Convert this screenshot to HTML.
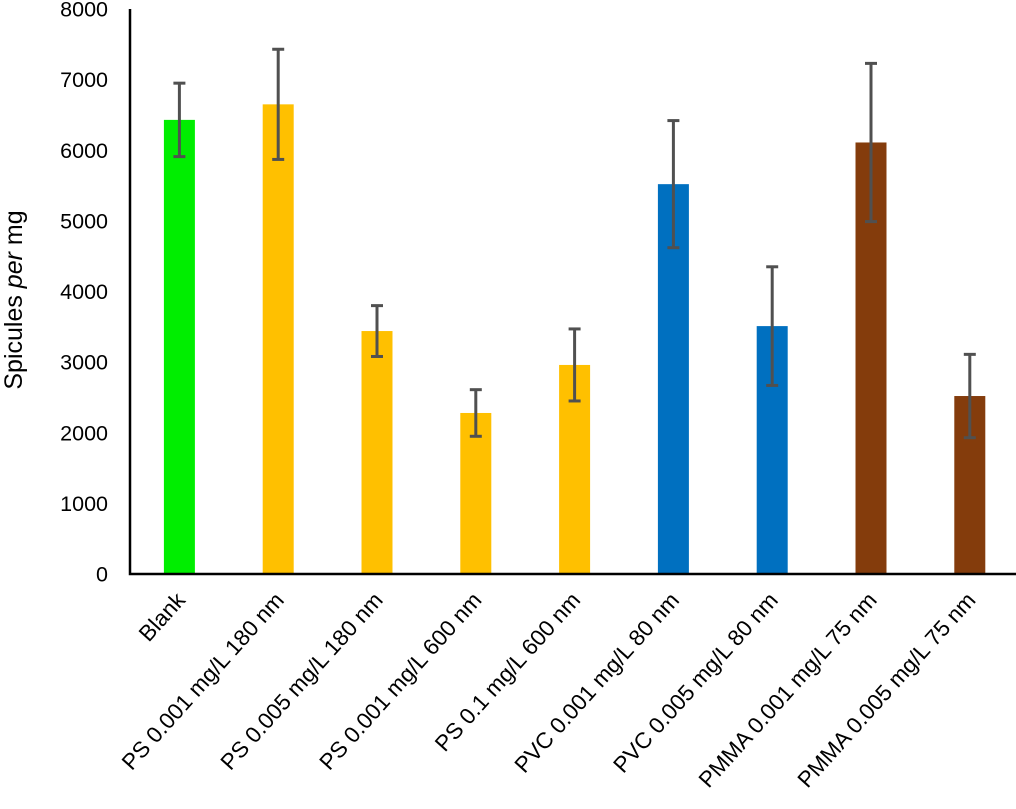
<!DOCTYPE html>
<html><head><meta charset="utf-8"><style>
html,body{margin:0;padding:0;background:#fff;}
svg{display:block;font-family:"Liberation Sans",sans-serif;}
</style></head><body>
<svg id="chart" width="1016" height="809">
<g id="g"></g>
</svg>
<script>
const categories=["Blank","PS 0.001 mg/L 180 nm","PS 0.005 mg/L 180 nm","PS 0.001 mg/L 600 nm","PS 0.1 mg/L 600 nm","PVC 0.001 mg/L 80 nm","PVC 0.005 mg/L 80 nm","PMMA 0.001 mg/L 75 nm","PMMA 0.005 mg/L 75 nm"];
const values=[6430,6650,3440,2280,2960,5520,3510,6110,2520];
const errors=[520,780,360,330,510,900,840,1120,590];
const colors=["#00ee00","#ffc000","#ffc000","#ffc000","#ffc000","#0070c0","#0070c0","#843c0c","#843c0c"];
const yTicks=[0,1000,2000,3000,4000,5000,6000,7000,8000];
const NS="http://www.w3.org/2000/svg";
const g=document.getElementById('g');
const x0=130,y0=574,yTop=9,yMax=8000,step=98.8,bw=31;
const yS=v=>y0-(v/yMax)*(y0-yTop);
const xS=i=>x0+step*(i+0.5);
function mk(t,a){const e=document.createElementNS(NS,t);for(const k in a)e.setAttribute(k,a[k]);g.appendChild(e);return e;}
categories.forEach((c,i)=>{
  const cx=xS(i);
  const b=mk('rect',{x:cx-bw/2,y:yS(values[i]),width:bw,height:y0-yS(values[i]),fill:colors[i]});
  
  
  const hi=yS(values[i]+errors[i]),lo=yS(values[i]-errors[i]);
  const eg=document.createElementNS(NS,'g');g.appendChild(eg);
  
  
  [[cx,hi,cx,lo],[cx-6,hi,cx+6,hi],[cx-6,lo,cx+6,lo]].forEach(l=>{
    const e=document.createElementNS(NS,'line');
    e.setAttribute('x1',l[0]);e.setAttribute('y1',l[1]);e.setAttribute('x2',l[2]);e.setAttribute('y2',l[3]);
    e.setAttribute('stroke','#505050');e.setAttribute('stroke-width','3');eg.appendChild(e);
  });
  const lx=cx+7,ly=601;
  const t=mk('text',{x:lx,y:ly,'text-anchor':'end','font-size':'22.5',fill:'#000',transform:`rotate(-48 ${lx} ${ly})`});
  t.textContent=c;
  
  
});
yTicks.forEach(v=>{
  const t=mk('text',{x:108,y:yS(v)+7.5,'text-anchor':'end','font-size':'21.5',fill:'#000'});
  t.textContent=v;
  
  
});
const ax=mk('path',{d:`M${x0} ${yTop} V${y0} H1016`,stroke:'#000','stroke-width':'2.5',fill:'none'});


const tt=mk('text',{x:22,y:300,'text-anchor':'middle','font-size':'25',fill:'#000',transform:'rotate(-90 22 300)'});
tt.innerHTML='Spicules <tspan font-style="italic">per</tspan> mg';


</script>
</body></html>
